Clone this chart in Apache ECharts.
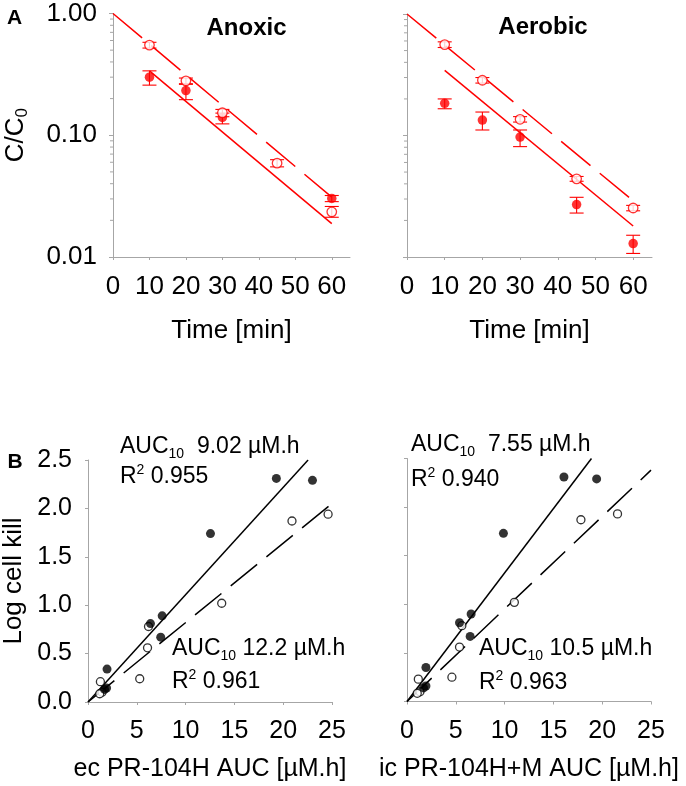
<!DOCTYPE html>
<html>
<head>
<meta charset="utf-8">
<script src="https://cdn.jsdelivr.net/npm/echarts@6/dist/echarts.min.js"></script>
<style>
html, body { margin: 0; padding: 0; background: #fff; }
#chart { width: 686px; height: 786px; }
</style>
</head>
<body>
<div id="chart"></div>
<script>
// ---------------- PANEL A DATA (C/C0 vs time) ----------------
const timeA = [10, 20, 30, 45, 60];
const anoxicFilledTime = [10, 20, 30, 60];

const anoxicOpen = [0.55, 0.28, 0.153, 0.059, 0.0235];
const anoxicOpenLo = [0.52, 0.265, 0.142, 0.055, 0.0212];
const anoxicOpenHi = [0.58, 0.295, 0.163, 0.063, 0.026];
const anoxicFilled = [0.30, 0.233, 0.14, 0.0303];
const anoxicFilledLo = [0.258, 0.196, 0.124, 0.0285];
const anoxicFilledHi = [0.338, 0.262, 0.152, 0.032];

const aerobicOpen = [0.56, 0.285, 0.136, 0.044, 0.0253];
const aerobicOpenLo = [0.53, 0.27, 0.129, 0.042, 0.024];
const aerobicOpenHi = [0.59, 0.30, 0.143, 0.046, 0.0266];
const aerobicFilled = [0.184, 0.134, 0.097, 0.027, 0.0129];
const aerobicFilledLo = [0.166, 0.111, 0.081, 0.023, 0.0107];
const aerobicFilledHi = [0.20, 0.156, 0.111, 0.031, 0.0151];

const anoxicDashedFit = [[0, 1.0], [60, 0.031]];
const anoxicSolidFit = [[10, 0.338], [60, 0.0188]];
const aerobicDashedFit = [[0, 1.0], [60, 0.029]];
const aerobicSolidFit = [[10, 0.344], [60, 0.018]];

// minor ticks of the log axis (2..9 per decade)
const logMinorTicks = [0.02, 0.03, 0.04, 0.05, 0.06, 0.07, 0.08, 0.09,
                       0.2, 0.3, 0.4, 0.5, 0.6, 0.7, 0.8, 0.9];

// ---------------- PANEL B DATA (log cell kill vs AUC) ----------------
const ecFilledX = [1.95, 1.9, 1.7, 6.4, 7.6, 7.45, 12.55, 19.3, 23.0];
const ecFilledY = [0.34, 0.145, 0.13, 0.81, 0.89, 0.67, 1.74, 2.31, 2.29];
const ecOpenX = [1.27, 1.44, 1.2, 5.3, 6.1, 6.2, 13.7, 20.9, 24.6];
const ecOpenY = [0.21, 0.10, 0.085, 0.24, 0.56, 0.78, 1.02, 1.87, 1.94];

const icFilledX = [1.94, 1.94, 1.7, 5.38, 6.57, 6.47, 9.88, 16.08, 19.43];
const icFilledY = [0.35, 0.16, 0.14, 0.81, 0.90, 0.67, 1.73, 2.31, 2.29];
const icOpenX = [1.16, 1.33, 1.05, 4.6, 5.38, 5.62, 11.0, 17.82, 21.57];
const icOpenY = [0.23, 0.10, 0.084, 0.25, 0.56, 0.78, 1.02, 1.87, 1.93];

const ecSolidFit = [[0, 0], [22.55, 2.5]];
const ecDashedFit = [[0, 0], [25, 2.05]];
const icSolidFit = [[0, 0], [18.9, 2.5]];
const icDashedFit = [[0, 0], [25, 2.38]];

// ---------------- HELPERS ----------------
const FONT = '"Liberation Sans", Arial, sans-serif';
const RED = '#ff0000';
const AXIS_GREY = '#a6a6a6';

function zip(xs, ys) {
    return xs.map((x, i) => [x, ys[i]]);
}

function scatter(idx, data, filled, color, size) {
    return {
        type: 'scatter', xAxisIndex: idx, yAxisIndex: idx, z: 5,
        symbol: 'circle', symbolSize: size, data: data,
        itemStyle: filled
            ? { color: color }
            : { color: '#fff', borderColor: color, borderWidth: 1.3 }
    };
}

function fitLine(idx, data, color, dashed) {
    return {
        type: 'line', xAxisIndex: idx, yAxisIndex: idx, z: 2,
        data: data, showSymbol: false, silent: true,
        lineStyle: { color: color, width: 1.5, type: dashed || 'solid' }
    };
}

function errorBars(idx, xs, lo, hi, color) {
    return {
        type: 'custom', xAxisIndex: idx, yAxisIndex: idx, z: 3, silent: true,
        data: xs.map((x, i) => [x, lo[i], hi[i]]),
        encode: { x: 0, y: [1, 2] },
        renderItem: function (params, api) {
            let x = api.value(0);
            let a = api.coord([x, api.value(1)]);
            let b = api.coord([x, api.value(2)]);
            let w = 7;
            let st = { stroke: color, lineWidth: 1.1 };
            return {
                type: 'group', children: [
                    { type: 'line', shape: { x1: a[0], y1: a[1], x2: b[0], y2: b[1] }, style: st },
                    { type: 'line', shape: { x1: a[0] - w, y1: a[1], x2: a[0] + w, y2: a[1] }, style: st },
                    { type: 'line', shape: { x1: b[0] - w, y1: b[1], x2: b[0] + w, y2: b[1] }, style: st }
                ]
            };
        }
    };
}

function minorTicks(idx) {
    return {
        type: 'custom', xAxisIndex: idx, yAxisIndex: idx, z: 1, silent: true,
        data: logMinorTicks.map(v => [0, v]),
        encode: { x: 0, y: 1 },
        renderItem: function (params, api) {
            let p = api.coord([0, api.value(1)]);
            return {
                type: 'line',
                shape: { x1: p[0] - 3, y1: p[1], x2: p[0], y2: p[1] },
                style: { stroke: AXIS_GREY, lineWidth: 1 }
            };
        }
    };
}

function xAxis(idx, max, interval, name, labelSize, margin, nameGap) {
    return {
        type: 'value', gridIndex: idx, min: 0, max: max, interval: interval,
        name: name, nameLocation: 'middle', nameGap: nameGap,
        nameTextStyle: { fontSize: labelSize === 26 ? 26 : 25, color: '#000', fontFamily: FONT },
        axisLine: { show: true, onZero: false, lineStyle: { color: AXIS_GREY, width: 1 } },
        axisTick: { show: true, length: 3, lineStyle: { color: AXIS_GREY } },
        axisLabel: {
            fontSize: labelSize, color: '#000', fontFamily: FONT, margin: margin,
            showMaxLabel: max % interval === 0,
            formatter: v => (v % interval === 0 ? String(v) : '')
        },
        splitLine: { show: false }
    };
}

// ---------------- OPTION ----------------
const option = {
    animation: false,
    backgroundColor: '#fff',
    grid: [
        { left: 107, top: 13.5, width: 243, height: 243.5 },
        { left: 407, top: 14, width: 245, height: 243 },
        { left: 88, top: 460, width: 244, height: 242 },
        { left: 407, top: 458.5, width: 244, height: 243 }
    ],
    xAxis: [
        xAxis(0, 65, 10, 'Time [min]', 26, 17, 61),
        xAxis(1, 65, 10, 'Time [min]', 26, 17, 61),
        xAxis(2, 25, 5, 'ec PR-104H AUC [µM.h]', 25, 17, 55),
        xAxis(3, 25, 5, 'ic PR-104H+M AUC [µM.h]', 25, 17, 55)
    ],
    yAxis: [
        {
            type: 'log', logBase: 10, gridIndex: 0, min: 0.01, max: 1,
            name: 'C/C{sub|0}', nameLocation: 'middle', nameGap: 82,
            nameTextStyle: {
                fontSize: 26, lineHeight: 30, color: '#000', fontFamily: FONT,
                rich: { sub: { fontSize: 17, lineHeight: 17, verticalAlign: 'bottom', fontFamily: FONT } }
            },
            axisLine: { show: true, lineStyle: { color: AXIS_GREY } },
            axisTick: { show: true, length: 4, lineStyle: { color: AXIS_GREY } },
            axisLabel: { fontSize: 26, color: '#000', fontFamily: FONT, margin: 16, formatter: v => Number(v).toFixed(2) },
            splitLine: { show: false }
        },
        {
            type: 'log', logBase: 10, gridIndex: 1, min: 0.01, max: 1,
            axisLine: { show: true, lineStyle: { color: AXIS_GREY } },
            axisTick: { show: true, length: 4, lineStyle: { color: AXIS_GREY } },
            axisLabel: { show: false },
            splitLine: { show: false }
        },
        {
            type: 'value', gridIndex: 2, min: 0, max: 2.5, interval: 0.5,
            name: 'Log cell kill', nameLocation: 'middle', nameGap: 61,
            nameTextStyle: { fontSize: 26, color: '#000', fontFamily: FONT },
            axisLine: { show: true, lineStyle: { color: AXIS_GREY } },
            axisTick: { show: true, length: 3, lineStyle: { color: AXIS_GREY } },
            axisLabel: { fontSize: 25, color: '#000', fontFamily: FONT, margin: 16, formatter: v => v.toFixed(1) },
            splitLine: { show: false }
        },
        {
            type: 'value', gridIndex: 3, min: 0, max: 2.5, interval: 0.5,
            axisLine: { show: true, lineStyle: { color: AXIS_GREY } },
            axisTick: { show: true, length: 3, lineStyle: { color: AXIS_GREY } },
            axisLabel: { show: false },
            splitLine: { show: false }
        }
    ],
    series: [
        // Anoxic
        minorTicks(0),
        fitLine(0, anoxicDashedFit, RED, [38, 12]),
        fitLine(0, anoxicSolidFit, RED),
        errorBars(0, anoxicFilledTime, anoxicFilledLo, anoxicFilledHi, RED),
        errorBars(0, timeA, anoxicOpenLo, anoxicOpenHi, RED),
        scatter(0, zip(anoxicFilledTime, anoxicFilled), true, RED, 9.5),
        scatter(0, zip(timeA, anoxicOpen), false, RED, 9.5),
        // Aerobic
        minorTicks(1),
        fitLine(1, aerobicDashedFit, RED, [38, 12]),
        fitLine(1, aerobicSolidFit, RED),
        errorBars(1, timeA, aerobicFilledLo, aerobicFilledHi, RED),
        errorBars(1, timeA, aerobicOpenLo, aerobicOpenHi, RED),
        scatter(1, zip(timeA, aerobicFilled), true, RED, 9.5),
        scatter(1, zip(timeA, aerobicOpen), false, RED, 9.5),
        // ec AUC
        fitLine(2, ecSolidFit, '#000'),
        fitLine(2, ecDashedFit, '#000', [34, 12]),
        scatter(2, zip(ecOpenX, ecOpenY), false, '#000', 8),
        scatter(2, zip(ecFilledX, ecFilledY), true, '#000', 9),
        // ic AUC
        fitLine(3, icSolidFit, '#000'),
        fitLine(3, icDashedFit, '#000', [34, 12]),
        scatter(3, zip(icOpenX, icOpenY), false, '#000', 8),
        scatter(3, zip(icFilledX, icFilledY), true, '#000', 9)
    ],
    graphic: []
};

// ---------------- TEXT LABELS ----------------
const annoRich = {
    sub: { fontSize: 14, lineHeight: 14, verticalAlign: 'bottom', fontFamily: FONT, fill: '#000' },
    sup: { fontSize: 14, lineHeight: 18, verticalAlign: 'top', fontFamily: FONT, fill: '#000' }
};

function label(text, x, y, size, bold, align) {
    return {
        type: 'text', x: x, y: y, silent: true,
        style: {
            text: text, fontSize: size, fontWeight: bold ? 'bold' : 'normal',
            fontFamily: FONT, fill: '#000', lineHeight: 28,
            align: align || 'left', verticalAlign: 'middle', rich: annoRich
        }
    };
}

option.graphic = [
    label('A', 14.5, 18.5, 21, true, 'center'),
    label('B', 15, 462.5, 21, true, 'center'),
    label('Anoxic', 246.5, 28.5, 24, true, 'center'),
    label('Aerobic', 543, 27.5, 24, true, 'center'),
    label('AUC{sub|10}  9.02 µM.h', 120, 447, 23),
    label('R{sup|2} 0.955', 120, 477, 23),
    label('AUC{sub|10} 12.2 µM.h', 172, 649, 23),
    label('R{sup|2} 0.961', 172, 682, 23),
    label('AUC{sub|10}  7.55 µM.h', 411, 445, 23),
    label('R{sup|2} 0.940', 411, 480, 23),
    label('AUC{sub|10} 10.5 µM.h', 479, 649, 23),
    label('R{sup|2} 0.963', 479, 683, 23)
];

let chart = echarts.init(document.getElementById('chart'));
chart.setOption(option);
</script>
</body>
</html>
